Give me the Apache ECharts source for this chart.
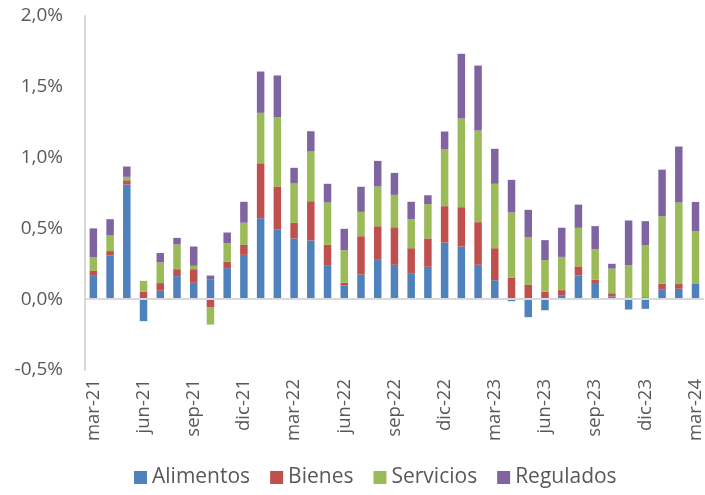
<!DOCTYPE html>
<html lang="es">
<head>
  <meta charset="UTF-8" />
  <title>Contribuciones mensuales</title>
  <script src="https://cdn.jsdelivr.net/npm/echarts@6.0.0/dist/echarts.min.js"></script>
  <style>
    html, body { margin: 0; padding: 0; background: #fff; }
    #chart { width: 705px; height: 495px; }
  </style>
</head>
<body>
  <div id="chart"></div>
  <script>
    // meses mar-21 .. mar-24
    const months = [
      'mar-21','abr-21','may-21','jun-21','jul-21','ago-21','sep-21','oct-21','nov-21','dic-21',
      'ene-22','feb-22','mar-22','abr-22','may-22','jun-22','jul-22','ago-22','sep-22','oct-22','nov-22','dic-22',
      'ene-23','feb-23','mar-23','abr-23','may-23','jun-23','jul-23','ago-23','sep-23','oct-23','nov-23','dic-23',
      'ene-24','feb-24','mar-24'
    ];

    // contribuciones (puntos porcentuales)
    const alimentos = [
      0.17, 0.31, 0.81, -0.155, 0.06, 0.163, 0.116, 0.137, 0.219, 0.313,
      0.572, 0.494, 0.429, 0.415, 0.236, 0.097, 0.174, 0.278, 0.243, 0.184, 0.229, 0.40,
      0.372, 0.243, 0.134, -0.014, -0.127, -0.078, 0.028, 0.168, 0.108, 0.02, -0.073, -0.068,
      0.067, 0.074, 0.108
    ];
    const bienes = [
      0.033, 0.03, 0.03, 0.054, 0.054, 0.049, 0.096, -0.059, 0.045, 0.07,
      0.388, 0.302, 0.11, 0.277, 0.148, 0.019, 0.271, 0.237, 0.265, 0.176, 0.20, 0.257,
      0.278, 0.301, 0.226, 0.153, 0.101, 0.052, 0.036, 0.064, 0.029, 0.022, 0.012, 0.014,
      0.043, 0.033, 0.004
    ];
    const servicios = [
      0.094, 0.11, 0.024, 0.076, 0.146, 0.174, 0.024, -0.12, 0.132, 0.157,
      0.356, 0.489, 0.278, 0.351, 0.299, 0.23, 0.172, 0.281, 0.229, 0.205, 0.242, 0.402,
      0.626, 0.647, 0.455, 0.459, 0.337, 0.224, 0.235, 0.272, 0.216, 0.174, 0.228, 0.366,
      0.476, 0.576, 0.368
    ];
    const regulados = [
      0.203, 0.115, 0.073, 0.0, 0.066, 0.047, 0.136, 0.03, 0.075, 0.148,
      0.292, 0.295, 0.111, 0.143, 0.132, 0.151, 0.177, 0.181, 0.155, 0.123, 0.063, 0.125,
      0.457, 0.459, 0.247, 0.231, 0.193, 0.141, 0.206, 0.164, 0.163, 0.034, 0.316, 0.171,
      0.329, 0.395, 0.207
    ];

    const seriesDefs = [
      { name: 'Alimentos', data: alimentos, color: '#4f81bd' },
      { name: 'Bienes', data: bienes, color: '#c0504d' },
      { name: 'Servicios', data: servicios, color: '#9bbb59' },
      { name: 'Regulados', data: regulados, color: '#8064a2' }
    ];

    const fontFam = '"Open Sans", "Noto Sans", sans-serif';
    const chart = echarts.init(document.getElementById('chart'));

    const series = seriesDefs.map(function (s, i) {
      const item = {
        name: s.name,
        type: 'bar',
        stack: 'total',
        barWidth: 7.5,
        data: s.data,
        itemStyle: { color: s.color },
        emphasis: { disabled: true }
      };
      if (i === 0) {
        // linea del cero
        item.markLine = {
          silent: true,
          symbol: 'none',
          label: { show: false },
          lineStyle: { color: '#d9d9d9', width: 2, type: 'solid' },
          data: [{ yAxis: 0 }]
        };
      }
      return item;
    });

    chart.setOption({
      animation: false,
      textStyle: { fontFamily: fontFam },
      grid: { left: 85, right: 0, top: 16, bottom: 125 },
      legend: {
        bottom: 2,
        left: 129,
        itemWidth: 13,
        itemHeight: 13,
        itemGap: 20,
        icon: 'rect',
        textStyle: { fontSize: 21, color: '#595959', fontFamily: fontFam },
        data: seriesDefs.map(function (s) { return s.name; })
      },
      xAxis: {
        type: 'category',
        data: months,
        axisLine: { show: false, onZero: false },
        axisTick: { show: false },
        axisLabel: {
          interval: 2,
          rotate: 90,
          fontSize: 18.5,
          color: '#595959',
          margin: 9,
          fontFamily: fontFam
        }
      },
      yAxis: {
        type: 'value',
        min: -0.5,
        max: 2.0,
        interval: 0.5,
        splitLine: { show: false },
        axisTick: { show: false },
        axisLine: { show: true, lineStyle: { color: '#d9d9d9', width: 2 } },
        axisLabel: {
          fontSize: 19,
          color: '#595959',
          margin: 22,
          fontFamily: fontFam,
          formatter: function (v) { return v.toFixed(1).replace('.', ',') + '%'; }
        }
      },
      series: series
    });
  </script>
</body>
</html>
